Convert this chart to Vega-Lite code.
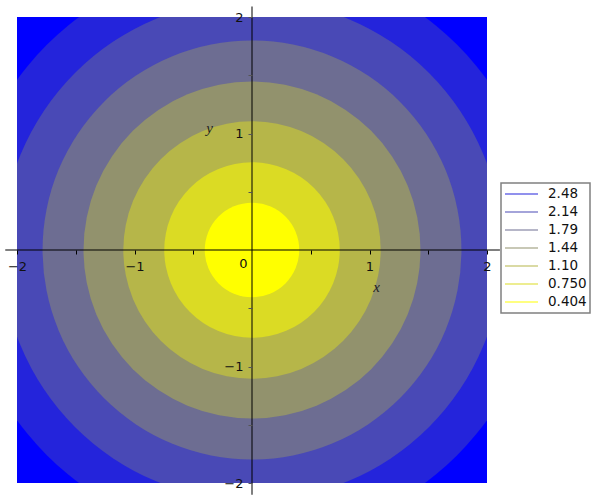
{
  "$schema": "https://vega.github.io/schema/vega-lite/v6.json",
  "width": 470,
  "height": 466,
  "autosize": "none",
  "padding": {"left": 17, "top": 17, "right": 113, "bottom": 17},
  "background": "white",
  "config": {"view": {"stroke": null}},
  "encoding": {
    "x": {
      "field": "x", "type": "quantitative",
      "scale": {"domain": [-2, 2], "nice": false, "zero": false},
      "axis": {
        "orient": "bottom", "offset": -233, "domain": false, "grid": false, "zindex": 1,
        "values": [-2, -1.5, -1, -0.5, 0.5, 1, 1.5, 2], "format": "~g",
        "labelExpr": "datum.value % 1 === 0 ? datum.label : ''",
        "tickSize": 4, "tickColor": "black", "labelPadding": 6, "title": null,
        "labelFont": "DejaVu Sans", "labelFontSize": 13, "labelColor": "#111",
        "labelFlush": false, "labelOverlap": false
      }
    },
    "y": {
      "field": "y", "type": "quantitative",
      "scale": {"domain": [-2, 2], "nice": false, "zero": false},
      "axis": {
        "orient": "left", "offset": -235, "domain": false, "grid": false, "zindex": 1,
        "values": [-2, -1.5, -1, -0.5, 0.5, 1, 1.5, 2], "format": "~g",
        "labelExpr": "datum.value % 1 === 0 ? datum.label : ''",
        "tickSize": 4, "tickColor": "#555", "labelPadding": 5, "title": null,
        "labelFont": "DejaVu Sans", "labelFontSize": 13, "labelColor": "#111",
        "labelFlush": false, "labelOverlap": false
      }
    }
  },
  "layer": [
    {
      "data": {"values": [
        {"x": 0, "y": 0, "r": 3, "band": "outer"},
        {"x": 0, "y": 0, "r": 2.48, "band": "2.48"},
        {"x": 0, "y": 0, "r": 2.14, "band": "2.14"},
        {"x": 0, "y": 0, "r": 1.79, "band": "1.79"},
        {"x": 0, "y": 0, "r": 1.44, "band": "1.44"},
        {"x": 0, "y": 0, "r": 1.10, "band": "1.10"},
        {"x": 0, "y": 0, "r": 0.75, "band": "0.750"},
        {"x": 0, "y": 0, "r": 0.404, "band": "0.404"}
      ]},
      "mark": {"type": "point", "filled": true, "opacity": 1, "shape": "circle", "clip": true, "strokeWidth": 0},
      "encoding": {
        "size": {"field": "r", "type": "quantitative", "legend": null,
          "scale": {"type": "pow", "exponent": 2, "domain": [0, 3], "range": [0, 492804], "zero": true}},
        "fill": {"field": "band", "type": "nominal", "legend": null,
          "scale": {
            "domain": ["outer", "2.48", "2.14", "1.79", "1.44", "1.10", "0.750", "0.404"],
            "range": ["#0000ff", "#2424db", "#4949b6", "#6d6d92", "#92926d", "#b6b649", "#dbdb24", "#ffff00"]
          }},
        "order": {"field": "r", "type": "quantitative", "sort": "descending"}
      }
    },
    {
      "data": {"values": [
        {"x": 0, "y": 0, "level": "2.48"},
        {"x": 0, "y": 0, "level": "2.14"},
        {"x": 0, "y": 0, "level": "1.79"},
        {"x": 0, "y": 0, "level": "1.44"},
        {"x": 0, "y": 0, "level": "1.10"},
        {"x": 0, "y": 0, "level": "0.750"},
        {"x": 0, "y": 0, "level": "0.404"}
      ]},
      "mark": {"type": "line", "strokeWidth": 2},
      "encoding": {
        "stroke": {
          "field": "level", "type": "nominal",
          "scale": {
            "domain": ["2.48", "2.14", "1.79", "1.44", "1.10", "0.750", "0.404"],
            "range": ["#9191ed", "#a4a4da", "#b6b6c8", "#c8c8b6", "#dadaa4", "#eded91", "#ffff80"]
          },
          "legend": {
            "title": null, "orient": "none", "legendX": 484, "legendY": 166,
            "padding": 3, "strokeColor": "#808080",
            "symbolType": "stroke", "symbolSize": 1089, "symbolStrokeWidth": 2,
            "clipHeight": 16, "rowPadding": 2, "labelOffset": 9,
            "labelFont": "DejaVu Sans", "labelFontSize": 13.5, "labelColor": "#111",
            "labelExpr": "datum.label + '  '",
            "encode": {"legend": {"update": {"strokeWidth": {"value": 1.5}}}}
          }
        }
      }
    },
    {
      "data": {"values": [{"x": -2.1, "x2": 2.11, "y": 0}]},
      "mark": {"type": "rule", "color": "black", "strokeWidth": 1},
      "encoding": {"x2": {"field": "x2"}}
    },
    {
      "data": {"values": [{"x": 0, "y": -2.1, "y2": 2.09}]},
      "mark": {"type": "rule", "color": "black", "strokeWidth": 2, "opacity": 0.5},
      "encoding": {"y2": {"field": "y2"}}
    },
    {
      "data": {"values": [{"x": 0, "y": 0, "t": "0"}]},
      "mark": {"type": "text", "dx": -8.5, "dy": 14, "align": "center", "baseline": "middle", "font": "DejaVu Sans", "fontSize": 13, "color": "#111"},
      "encoding": {"text": {"field": "t"}}
    },
    {
      "data": {"values": [{"x": 1.06, "y": -0.32, "t": "x"}, {"x": -0.36, "y": 1.05, "t": "y"}]},
      "mark": {"type": "text", "align": "center", "baseline": "middle", "font": "Liberation Serif", "fontStyle": "italic", "fontSize": 15, "color": "#222"},
      "encoding": {"text": {"field": "t"}}
    }
  ]
}
